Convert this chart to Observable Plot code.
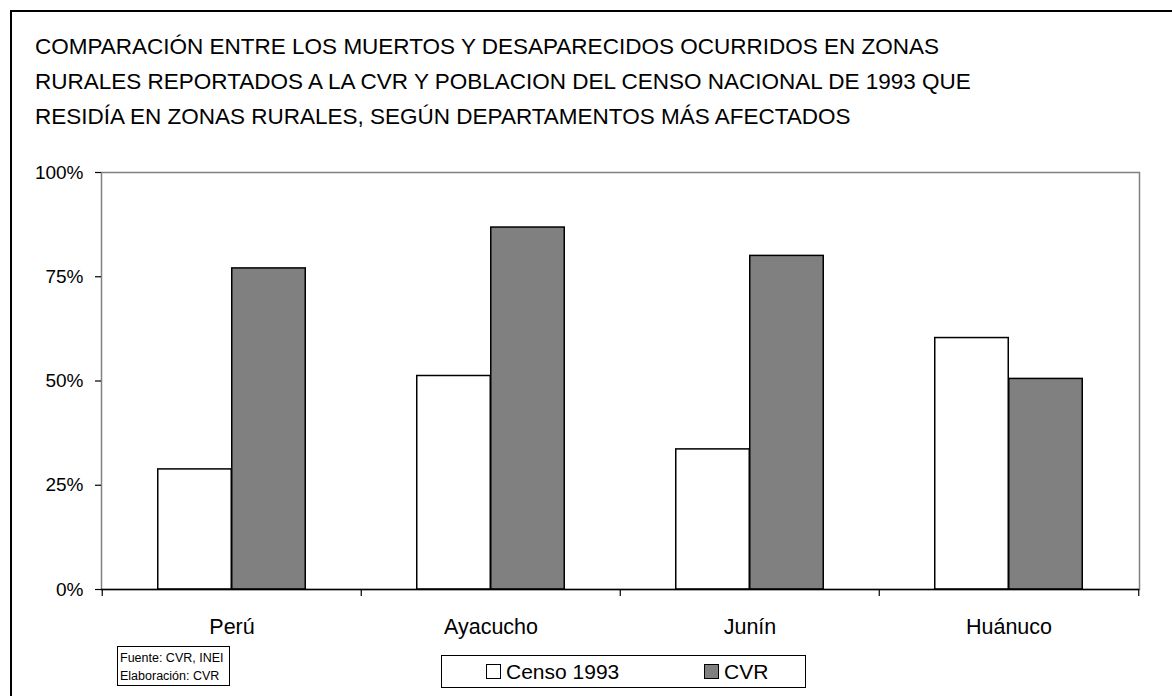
<!DOCTYPE html>
<html>
<head>
<meta charset="utf-8">
<script src="https://cdn.jsdelivr.net/npm/d3@7"></script>
<script src="https://cdn.jsdelivr.net/npm/@observablehq/plot@0.6"></script>
<style>
  html, body { margin: 0; padding: 0; background: #fff; }
  body { width: 1172px; height: 696px; overflow: hidden; position: relative; font-family: "Liberation Sans", Arial, sans-serif; color: #000; }
  #frame { position: absolute; left: 10px; top: 10px; width: 1200px; height: 720px; border: 2px solid #000; box-sizing: border-box; }
  #chart { position: absolute; left: 0; top: 0; }
  #title { position: absolute; left: 35px; top: 29px; font-size: 22.5px; line-height: 35px; white-space: nowrap; }
  #source { position: absolute; left: 117px; top: 646px; width: 113px; height: 40px; border: 1px solid #000; box-sizing: border-box; font-size: 12.5px; line-height: 18px; padding: 2px 0 0 2px; white-space: nowrap; }
  #legend { position: absolute; left: 441px; top: 655px; width: 365px; height: 33px; border: 1px solid #000; box-sizing: border-box; font-size: 21px; }
  .item { position: absolute; top: 3px; line-height: 26px; white-space: nowrap; }
  .sw { display: inline-block; width: 13px; height: 13px; border: 1px solid #000; vertical-align: 0px; margin-right: 5px; }
</style>
</head>
<body>
<div id="frame"></div>
<div id="chart"></div>
<div id="title"></div>
<div id="source"></div>
<div id="legend"></div>
<script>
const departments = ["Perú", "Ayacucho", "Junín", "Huánuco"];
const censo1993 = [28.8, 51.2, 33.6, 60.3];
const cvr = [77.0, 86.8, 80.0, 50.5];
const seriesNames = ["Censo 1993", "CVR"];
const seriesColors = ["#ffffff", "#808080"];
const yTicks = [0, 25, 50, 75, 100];
const titleLines = [
  "COMPARACIÓN ENTRE LOS MUERTOS Y DESAPARECIDOS OCURRIDOS EN ZONAS",
  "RURALES REPORTADOS A LA CVR Y POBLACION DEL CENSO NACIONAL DE 1993 QUE",
  "RESIDÍA EN ZONAS RURALES, SEGÚN DEPARTAMENTOS MÁS AFECTADOS"
];
const sourceLines = ["Fuente: CVR, INEI", "Elaboración: CVR"];

const censoData = departments.map((d, i) => ({dept: d, value: censo1993[i]}));
const cvrData = departments.map((d, i) => ({dept: d, value: cvr[i]}));

const W = 1172, H = 696;
const mL = 101, mR = 33, mT = 172, mB = 107;
const band = (W - mL - mR) / departments.length;
const barW = 74;

const chart = Plot.plot({
  width: W,
  height: H,
  marginLeft: mL,
  marginRight: mR,
  marginTop: mT,
  marginBottom: mB,
  style: {background: "transparent", fontFamily: "Liberation Sans, Arial, sans-serif", color: "#000", overflow: "visible"},
  x: {type: "band", domain: departments, padding: 0},
  y: {domain: [0, 100]},
  marks: [
    Plot.frame({stroke: "#808080", strokeWidth: 1.5}),
    Plot.barY(censoData, {x: "dept", y: "value", fill: seriesColors[0], stroke: "#000", strokeWidth: 1.5,
      insetLeft: band / 2 - barW, insetRight: band / 2}),
    Plot.barY(cvrData, {x: "dept", y: "value", fill: seriesColors[1], stroke: "#000", strokeWidth: 1.5,
      insetLeft: band / 2, insetRight: band / 2 - barW}),
    Plot.ruleY([0], {stroke: "#000", strokeWidth: 1.5}),
    Plot.ruleX(departments, {x: d => d, dx: -band / 2, insetTop: H - mT - mB, insetBottom: -7, stroke: "#000", strokeWidth: 1.2}),
    Plot.ruleX(departments.slice(-1), {x: d => d, dx: band / 2, insetTop: H - mT - mB, insetBottom: -7, stroke: "#000", strokeWidth: 1.2}),
    Plot.axisY({ticks: yTicks, tickFormat: d => d + "%", tickSize: 6, tickPadding: 12, fontSize: 19, line: true, stroke: "#000", strokeWidth: 1.2, label: null}),
    Plot.axisX({tickSize: 0, tickPadding: 29, fontSize: 21.5, label: null})
  ]
});
document.getElementById("chart").appendChild(chart);

document.getElementById("title").innerHTML = titleLines.join("<br>");
document.getElementById("source").innerHTML = sourceLines.join("<br>");

const legend = document.getElementById("legend");
const lefts = [44, 262];
seriesNames.forEach((name, i) => {
  const el = document.createElement("div");
  el.className = "item";
  el.style.left = lefts[i] + "px";
  const sw = document.createElement("span");
  sw.className = "sw";
  sw.style.background = seriesColors[i];
  el.appendChild(sw);
  el.appendChild(document.createTextNode(name));
  legend.appendChild(el);
});
</script>
</body>
</html>
